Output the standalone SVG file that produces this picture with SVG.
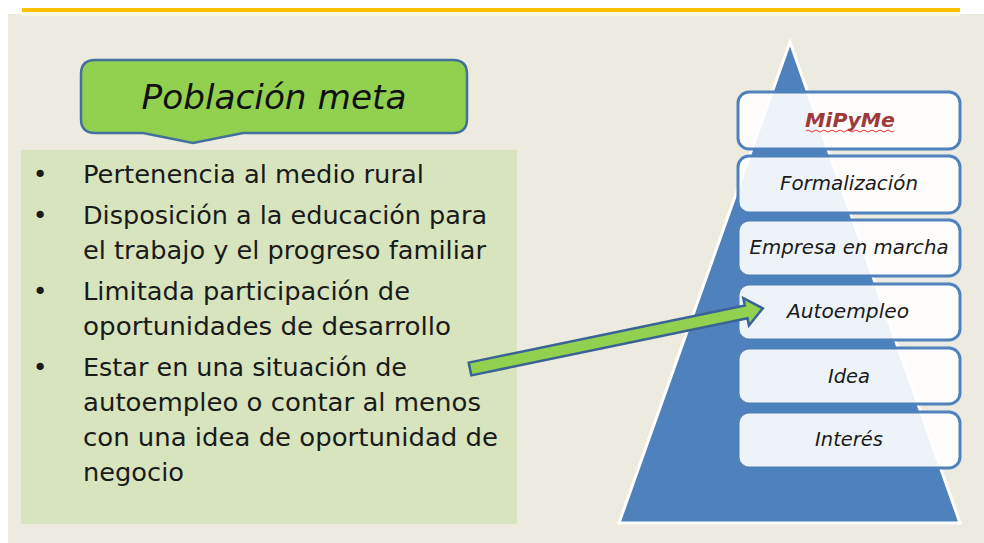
<svg xmlns="http://www.w3.org/2000/svg" width="984" height="543" viewBox="0 0 984 543">
<style>
.body{font-family:"DejaVu Sans","Liberation Sans",sans-serif;font-size:25px;fill:#1a1a1a}
.lvl{font-family:"DejaVu Sans","Liberation Sans",sans-serif;font-size:19px;font-style:italic;fill:#1a1a1a;text-anchor:middle}
.box{fill:#ffffff;fill-opacity:0.9;stroke:#4F81BD;stroke-width:3}
</style>
<rect x="0" y="0" width="984" height="543" fill="#ffffff"/>
<rect x="8" y="14" width="976" height="529" fill="#EDEBE0"/>
<rect x="22" y="12" width="938" height="4" fill="#FBF6E4"/>
<rect x="22" y="8" width="938" height="4" fill="#FFC000"/>

<g id="title">
<path d="M95,60 H453 Q467,60 467,74 V119 Q467,133 453,133 H243 L193,143 L143,133 H95 Q81,133 81,119 V74 Q81,60 95,60 Z" fill="#92D050" stroke="#41719C" stroke-width="2.5"/>
<text x="274" y="109" font-family="'DejaVu Sans','Liberation Sans',sans-serif" font-size="34" font-style="italic" fill="#111" text-anchor="middle" textLength="265" lengthAdjust="spacingAndGlyphs">Población meta</text>
</g>

<g id="criteria">
<rect x="21" y="150" width="496" height="374" fill="#D7E4BD"/>
<g class="body">
<text x="40" y="183" text-anchor="middle">•</text>
<text x="40" y="224" text-anchor="middle">•</text>
<text x="40" y="300" text-anchor="middle">•</text>
<text x="40" y="376" text-anchor="middle">•</text>
<text x="83" y="183" textLength="341" lengthAdjust="spacingAndGlyphs">Pertenencia al medio rural</text>
<text x="83" y="224" textLength="404" lengthAdjust="spacingAndGlyphs">Disposición a la educación para</text>
<text x="83" y="259" textLength="403" lengthAdjust="spacingAndGlyphs">el trabajo y el progreso familiar</text>
<text x="83" y="300" textLength="327" lengthAdjust="spacingAndGlyphs">Limitada participación de</text>
<text x="83" y="335" textLength="368" lengthAdjust="spacingAndGlyphs">oportunidades de desarrollo</text>
<text x="83" y="376" textLength="324" lengthAdjust="spacingAndGlyphs">Estar en una situación de</text>
<text x="83" y="411" textLength="398" lengthAdjust="spacingAndGlyphs">autoempleo o contar al menos</text>
<text x="83" y="446" textLength="415" lengthAdjust="spacingAndGlyphs">con una idea de oportunidad de</text>
<text x="83" y="481" textLength="101" lengthAdjust="spacingAndGlyphs">negocio</text>
</g>
</g>

<g id="pyramid">
<polygon points="790,42 960,523 619,523" fill="#4F81BD" stroke="#ffffff" stroke-width="3" stroke-linejoin="miter"/>
</g>

<g id="level-mipyme">
<rect class="box" x="738" y="92" width="222" height="57" rx="11"/>
<text x="850" y="127" font-family="'DejaVu Sans','Liberation Sans',sans-serif" font-size="19" font-style="italic" font-weight="bold" fill="#9E3A3A" text-anchor="middle" textLength="90" lengthAdjust="spacingAndGlyphs">MiPyMe</text>
<path d="M806,131 q2,-2 4,0 t4,0 t4,0 t4,0 t4,0 t4,0 t4,0 t4,0 t4,0 t4,0 t4,0 t4,0 t4,0 t4,0 t4,0 t4,0 t4,0 t4,0 t4,0 t4,0 t4,0 t4,0" fill="none" stroke="#E03030" stroke-width="1"/>
</g>
<g id="level-formalizacion">
<rect class="box" x="738" y="156" width="222" height="57" rx="11"/>
<text class="lvl" x="849" y="190" textLength="138" lengthAdjust="spacingAndGlyphs">Formalización</text>
</g>
<g id="level-empresa">
<rect class="box" x="738" y="220" width="222" height="56" rx="11"/>
<text class="lvl" x="849" y="254" textLength="199" lengthAdjust="spacingAndGlyphs">Empresa en marcha</text>
</g>
<g id="level-autoempleo">
<rect class="box" x="738" y="284" width="222" height="56" rx="11"/>
<text class="lvl" x="848" y="318" textLength="122" lengthAdjust="spacingAndGlyphs">Autoempleo</text>
</g>
<g id="level-idea">
<rect class="box" x="738" y="348" width="222" height="56" rx="11"/>
<text class="lvl" x="849" y="383" textLength="42" lengthAdjust="spacingAndGlyphs">Idea</text>
</g>
<g id="level-interes">
<rect class="box" x="738" y="412" width="222" height="56" rx="11"/>
<text class="lvl" x="849" y="446" textLength="68" lengthAdjust="spacingAndGlyphs">Interés</text>
</g>

<g id="connectors">
<g transform="translate(470,369) rotate(-11.7)">
<polygon points="0,-6.5 282,-6.5 282,-14 299,0 282,14 282,6.5 0,6.5" fill="#92D050" stroke="#3A6496" stroke-width="2.5" stroke-linejoin="miter"/>
</g>
</g>
</svg>
